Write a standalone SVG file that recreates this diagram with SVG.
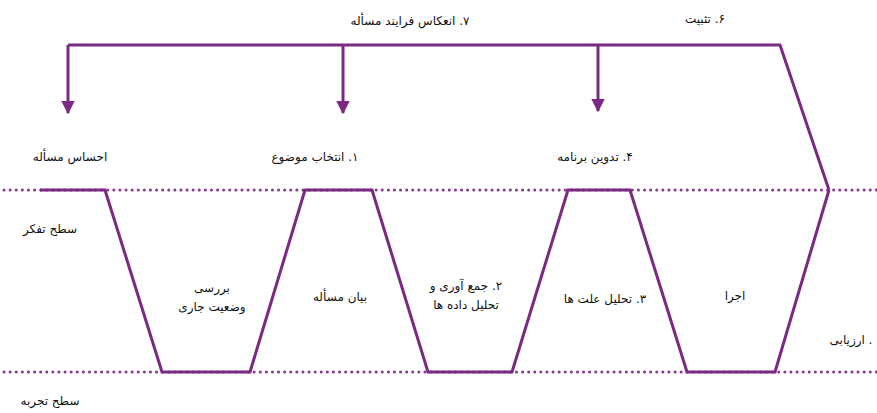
<svg xmlns="http://www.w3.org/2000/svg" width="877" height="413" viewBox="0 0 877 413">
<style>
.dot{stroke:#8a3a92;stroke-width:3;stroke-dasharray:0.1 6;stroke-linecap:round;fill:none}
.ln{stroke:#7a2a82;stroke-width:3;fill:none;stroke-linejoin:miter}
.t{font-family:"DejaVu Sans","Noto Sans",sans-serif;font-size:12px;fill:#111;text-anchor:middle;direction:rtl}
</style>
<defs>
<marker id="ah" viewBox="0 0 10 10" refX="9" refY="5" markerWidth="4.5" markerHeight="4.5" orient="auto">
<path d="M0,0 L10,5 L0,10 Z" fill="#7a2a82"/>
</marker>
</defs>
<rect width="877" height="413" fill="#fff"/>
<g id="levels">
<line class="dot" x1="4" y1="190" x2="877" y2="190"/>
<line class="dot" x1="4" y1="372" x2="877" y2="372"/>
</g>
<g id="connectors">
<polyline class="ln" points="40,190 105,190 162,372 250,372 305,190 372,190 428,372 512,372 568,190 630,190 687,372 775,372 829,190"/>
<polyline class="ln" points="829,190 780,45 68,45"/>
<line class="ln" x1="68" y1="45" x2="68" y2="113" marker-end="url(#ah)"/>
<line class="ln" x1="343" y1="45" x2="343" y2="113" marker-end="url(#ah)"/>
<line class="ln" x1="598" y1="45" x2="598" y2="111" marker-end="url(#ah)"/>
</g>
<g id="n7"><text class="t" x="410" y="25">۷. انعکاس فرایند مسأله</text></g>
<g id="n6"><text class="t" x="705" y="23">۶. تثبیت</text></g>
<g id="n0"><text class="t" x="70" y="161">احساس مسأله</text></g>
<g id="n1"><text class="t" x="315" y="161">۱. انتخاب موضوع</text></g>
<g id="n4"><text class="t" x="595" y="161">۴. تدوین برنامه</text></g>
<g id="think"><text class="t" x="50" y="233">سطح تفکر</text></g>
<g id="nb"><text class="t" x="212" y="292">بررسی</text><text class="t" x="212" y="311">وضعیت جاری</text></g>
<g id="nbm"><text class="t" x="340" y="301">بیان مسأله</text></g>
<g id="n2"><text class="t" x="466" y="290">۲. جمع آوری و</text><text class="t" x="466" y="309">تحلیل داده ها</text></g>
<g id="n3"><text class="t" x="605" y="303">۳. تحلیل علت ها</text></g>
<g id="nexec"><text class="t" x="735" y="300">اجرا</text></g>
<g id="n5"><text class="t" x="851" y="344">. ارزیابی</text></g>
<g id="exp"><text class="t" x="50" y="405">سطح تجربه</text></g>
</svg>
